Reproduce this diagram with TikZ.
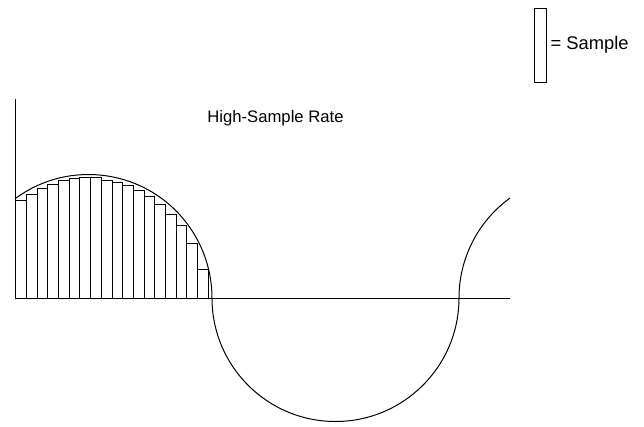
\documentclass[tikz,border=0pt]{standalone}
\usepackage{fontspec}
\setmainfont{Liberation Sans}
\usetikzlibrary{positioning}

\begin{document}
\begin{tikzpicture}[x=0.6pt,y=-0.6pt,line width=0.6pt]
  \useasboundingbox (0,0) rectangle (644,426);
  \coordinate (origin) at (15.5,298);
  \coordinate (ytop) at (15.5,99);
  \coordinate (xend) at (510,298);
  \coordinate (wavestart) at (15,198.75);
  \foreach \h [count=\i from 0] in {200,194,188.7,184,180.5,178,177,177.5,180,182.5,185.5,190.3,196.3,204,214,225.5,243,269}
    \draw (15.7+10.7*\i,298) rectangle (26.4+10.7*\i,\h);
  \draw (ytop) -- (origin) -- (xend);
  \draw (wavestart) arc[start angle=-126.52,end angle=0,radius=123.5]
    arc[start angle=180,end angle=0,radius=123.5]
    arc[start angle=180,end angle=234.06,radius=123.5];
  \node[anchor=base,font=\fontsize{10}{12}\selectfont] (title) at (275.5,122.7) {High-Sample Rate};
  \node[draw,fill=white,inner sep=0pt,minimum width=7.2pt,minimum height=44.4pt] (sample) at (540,45) {};
  \node[right=1.2pt of sample,inner sep=1pt,font=\fontsize{11}{13}\selectfont] (samplelabel) {= Sample};
\end{tikzpicture}
\end{document}
